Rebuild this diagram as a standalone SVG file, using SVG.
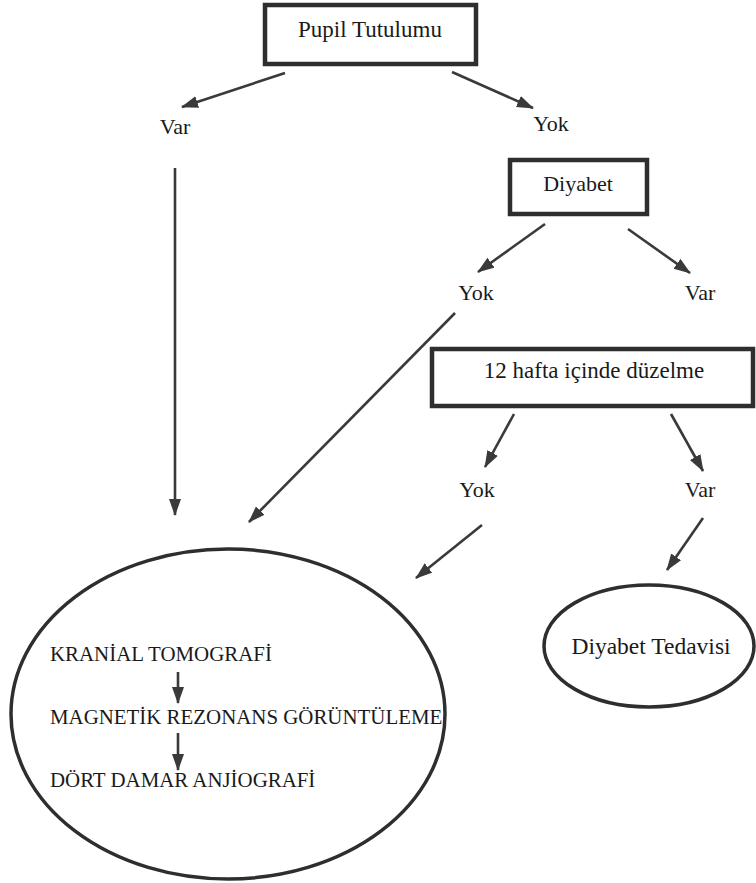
<svg xmlns="http://www.w3.org/2000/svg" width="756" height="883" viewBox="0 0 756 883">
<defs>
<marker id="ah" markerUnits="userSpaceOnUse" markerWidth="18" markerHeight="14" refX="16" refY="6" orient="auto">
<path d="M0,0 L17,6 L0,12 Z" fill="#3a3a3a"/>
</marker>
</defs>
<style>
.box{fill:#fff;stroke:#2e2e2e;stroke-width:4.5}
.ell{fill:none;stroke:#2e2e2e;stroke-width:3.5}
text{font-family:'Liberation Serif','Times New Roman','DejaVu Serif',serif;fill:#1a1a1a;font-size:22px}
.c{text-anchor:middle}
.big{font-size:23.5px}
.mid{font-size:23px}
.cap{font-size:20.9px}
.arr{stroke:#3a3a3a;stroke-width:2.6;fill:none;marker-end:url(#ah)}
</style>
<rect width="756" height="883" fill="#fff"/>
<g id="pupil">
<rect class="box" x="265" y="5" width="211" height="59"/>
<text class="c mid" x="370" y="37">Pupil Tutulumu</text>
</g>
<g id="var1"><text class="c" x="175" y="134">Var</text></g>
<g id="yok1"><text class="c" x="551" y="131">Yok</text></g>
<g id="diyabet">
<rect class="box" x="510" y="160" width="137" height="54"/>
<text class="c" x="578" y="191">Diyabet</text>
</g>
<g id="yok2"><text class="c" x="476" y="300">Yok</text></g>
<g id="var2"><text class="c" x="700" y="300">Var</text></g>
<g id="duzelme">
<rect class="box" x="432" y="349" width="321" height="57"/>
<text class="c mid" x="594" y="378">12 hafta içinde düzelme</text>
</g>
<g id="yok3"><text class="c" x="477" y="497">Yok</text></g>
<g id="var3"><text class="c" x="700" y="497">Var</text></g>
<g id="inceleme">
<ellipse class="ell" cx="228" cy="714" rx="217" ry="165"/>
<text class="cap" x="50" y="661">KRANİAL TOMOGRAFİ</text>
<text class="cap" x="50" y="724">MAGNETİK REZONANS GÖRÜNTÜLEME</text>
<text class="cap" x="50" y="787">DÖRT DAMAR ANJİOGRAFİ</text>
</g>
<g id="tedavi">
<ellipse class="ell" cx="649" cy="646" rx="105" ry="61"/>
<text class="c big" x="651" y="654">Diyabet Tedavisi</text>
</g>
<g id="connectors">
<line class="arr" x1="285" y1="73" x2="182" y2="107"/>
<line class="arr" x1="452" y1="72" x2="533" y2="108"/>
<line class="arr" x1="175" y1="168" x2="175" y2="515"/>
<line class="arr" x1="545" y1="224" x2="478" y2="272"/>
<line class="arr" x1="628" y1="229" x2="690" y2="273"/>
<line class="arr" x1="455" y1="313" x2="249" y2="522"/>
<line class="arr" x1="514" y1="414" x2="485" y2="467"/>
<line class="arr" x1="671" y1="414" x2="703" y2="471"/>
<line class="arr" x1="482" y1="525" x2="416" y2="578"/>
<line class="arr" x1="703" y1="518" x2="667" y2="570"/>
<line class="arr" x1="178" y1="672" x2="178" y2="703"/>
<line class="arr" x1="178" y1="733" x2="178" y2="770"/>
</g>
</svg>
